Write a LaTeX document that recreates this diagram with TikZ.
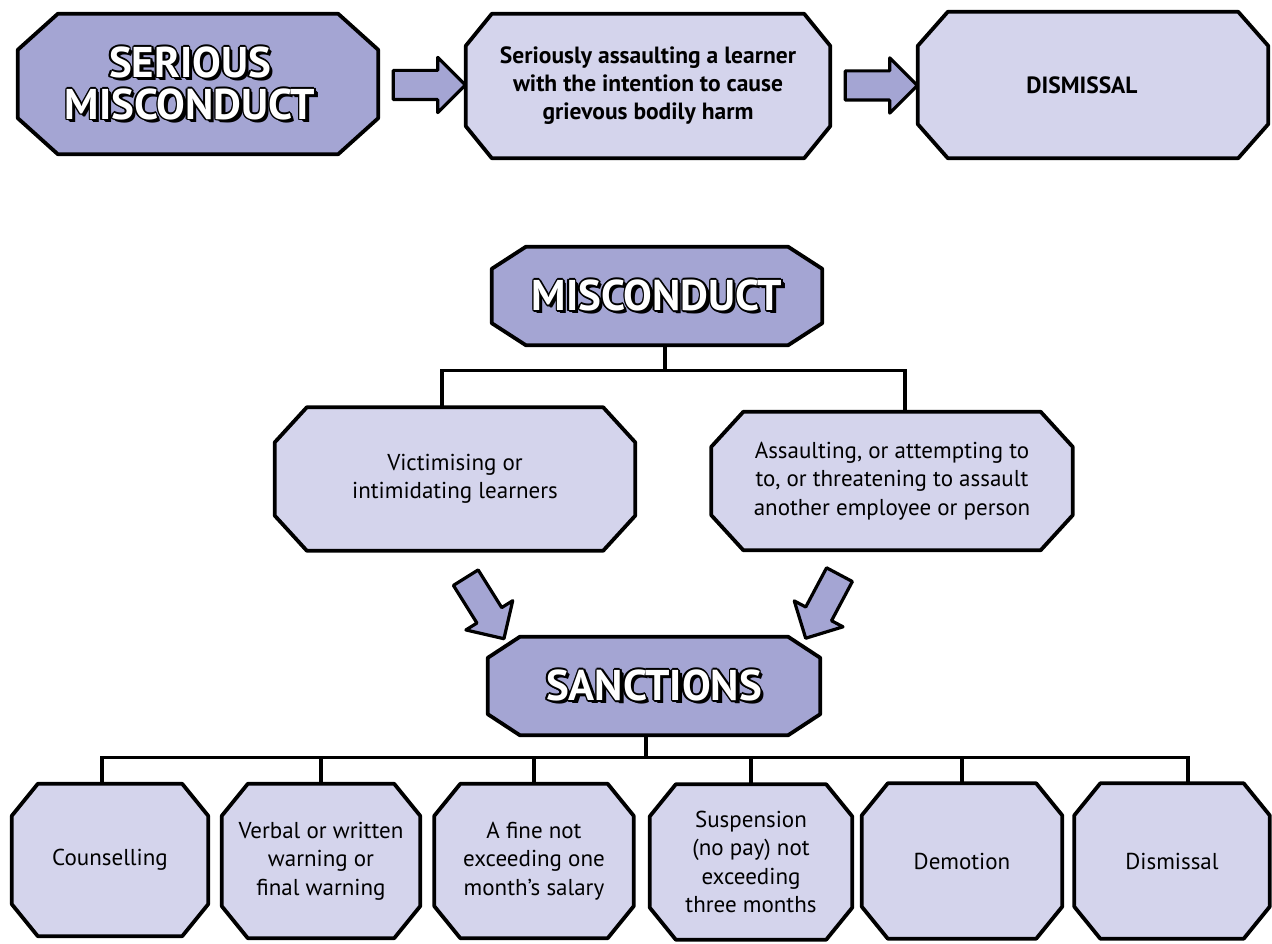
\documentclass[tikz,border=0pt]{standalone}
\usepackage{fontspec}
\setmainfont{PT Sans}
\usepackage{tikz}
\usetikzlibrary{calc,backgrounds,shapes.arrows}

\definecolor{dark}{RGB}{164,165,211}
\definecolor{light}{RGB}{212,212,236}

% hollow lettering with a drop shadow for the headings
\newcommand\hollow[1]{{%
  \setbox1=\hbox{\color{black}#1}%
  \setbox2=\hbox{\color{white}#1}%
  \rlap{\kern3.2pt\lower3.2pt\copy1}%
  \rlap{\kern2.2pt\lower2.2pt\copy1}%
  \rlap{\kern1.7pt\copy1}\rlap{\kern-1.7pt\copy1}%
  \rlap{\raise1.7pt\copy1}\rlap{\lower1.7pt\copy1}%
  \rlap{\kern1.2pt\raise1.2pt\copy1}\rlap{\kern1.2pt\lower1.2pt\copy1}%
  \rlap{\kern-1.2pt\raise1.2pt\copy1}\rlap{\kern-1.2pt\lower1.2pt\copy1}%
  \copy2}}

\tikzset{
  octo/.style={draw=black, line width=3.8pt, line join=round},
  box/.style 2 args={minimum width=#1pt, minimum height=#2pt},
  txt/.style={align=center, inner sep=0pt, font=\fontsize{23}{28.5}\selectfont},
  bold/.style={align=center, inner sep=0pt, font=\fontsize{23.5}{28}\selectfont\bfseries},
  head/.style={align=center, inner sep=0pt, font=\fontsize{43}{42}\selectfont\bfseries},
  link/.style={line width=3.2pt},
  barrow/.style={single arrow, draw=black, fill=dark, line width=3.2pt, line join=round,
    minimum height=72pt, minimum width=52pt, single arrow head extend=13pt,
    inner xsep=0pt, inner ysep=13pt}
}

\begin{document}
\begin{tikzpicture}[x=1pt, y=-1pt]
  \useasboundingbox (0,0) rectangle (1272,944);

  % top row
  \node[head, box={360}{140}] (sm) at (198,84) {\hspace*{-16pt}\hollow{SERIOUS}\\\hspace*{-16pt}\hollow{MISCONDUCT}};
  \node[bold, box={364}{144}] (act) at (648,86) {Seriously assaulting a learner\\with the intention to cause\\grievous bodily harm};
  \node[bold, box={350}{146}] (dis) at (1093,85) {\hspace*{-22pt}DISMISSAL};
  \node[barrow] (r1) at ($(sm.east)!0.5!(act.west)$) {};
  \node[barrow] (r2) at ($(act.east)!0.5!(dis.west)$) {};

  % misconduct tree
  \node[head, box={330}{98}] (misc) at (657,296) {\hollow{MISCONDUCT}};
  \node[txt, box={360}{143}] (vic) at (455,479) {Victimising or\\intimidating learners};
  \node[txt, box={361}{138}] (ass) at (892,481) {Assaulting, or attempting to\\to, or threatening to assault\\another employee or person};
  \coordinate (mj) at ([xshift=8pt, yshift=-25pt]misc.south);
  \draw[link] ([xshift=8pt]misc.south) -- (mj);
  \draw[link] ([xshift=-13pt]vic.north) |- (mj) -| ([xshift=13pt]ass.north);

  \node[barrow, rotate=-58] (d1) at (481,602) {};
  \node[barrow, rotate=-118] (d2) at (826,600) {};

  % sanctions tree
  \node[head, box={332}{98}] (san) at (654,686) {\hollow{SANCTIONS}};
  \node[txt, box={196}{152}] (b1) at (110,860) {Counselling};
  \node[txt, box={198}{154}] (b2) at (321,861) {Verbal or written\\warning or\\final warning};
  \node[txt, box={199}{154}] (b3) at (534,861) {A fine not\\exceeding one\\month’s salary};
  \node[txt, box={202}{155}] (b4) at (751,862) {Suspension\\(no pay) not\\exceeding\\three months};
  \node[txt, box={200}{155}] (b5) at (962,861) {Demotion};
  \node[txt, box={195}{155}] (b6) at (1172,861) {Dismissal};
  \coordinate (sj) at ([xshift=-8pt, yshift=-22pt]san.south);
  \draw[link] ([xshift=-8pt]san.south) -- (sj);
  \draw[link] ([xshift=-8pt]b1.north) |- (sj) -| ([xshift=16pt]b6.north);
  \foreach \b in {b2,b3,b4,b5}
    \draw[link] (\b.north) -- (\b.north |- sj);

  % chamfered frames behind the texts
  \begin{scope}[on background layer]
    \foreach \n/\cx/\cy/\f in {sm/40/36/dark, act/26/32/light, dis/30/34/light,
        misc/34/22/dark, vic/32/35/light, ass/32/35/light, san/32/21/dark,
        b1/26/32/light, b2/26/32/light, b3/26/32/light, b4/26/32/light,
        b5/26/32/light, b6/26/32/light}
      \draw[octo, fill=\f] ($(\n.north west)+(\cx,0)$) -- ($(\n.north east)+(-\cx,0)$)
        -- ($(\n.north east)+(0,\cy)$) -- ($(\n.south east)+(0,-\cy)$)
        -- ($(\n.south east)+(-\cx,0)$) -- ($(\n.south west)+(\cx,0)$)
        -- ($(\n.south west)+(0,-\cy)$) -- ($(\n.north west)+(0,\cy)$) -- cycle;
  \end{scope}
\end{tikzpicture}
\end{document}
